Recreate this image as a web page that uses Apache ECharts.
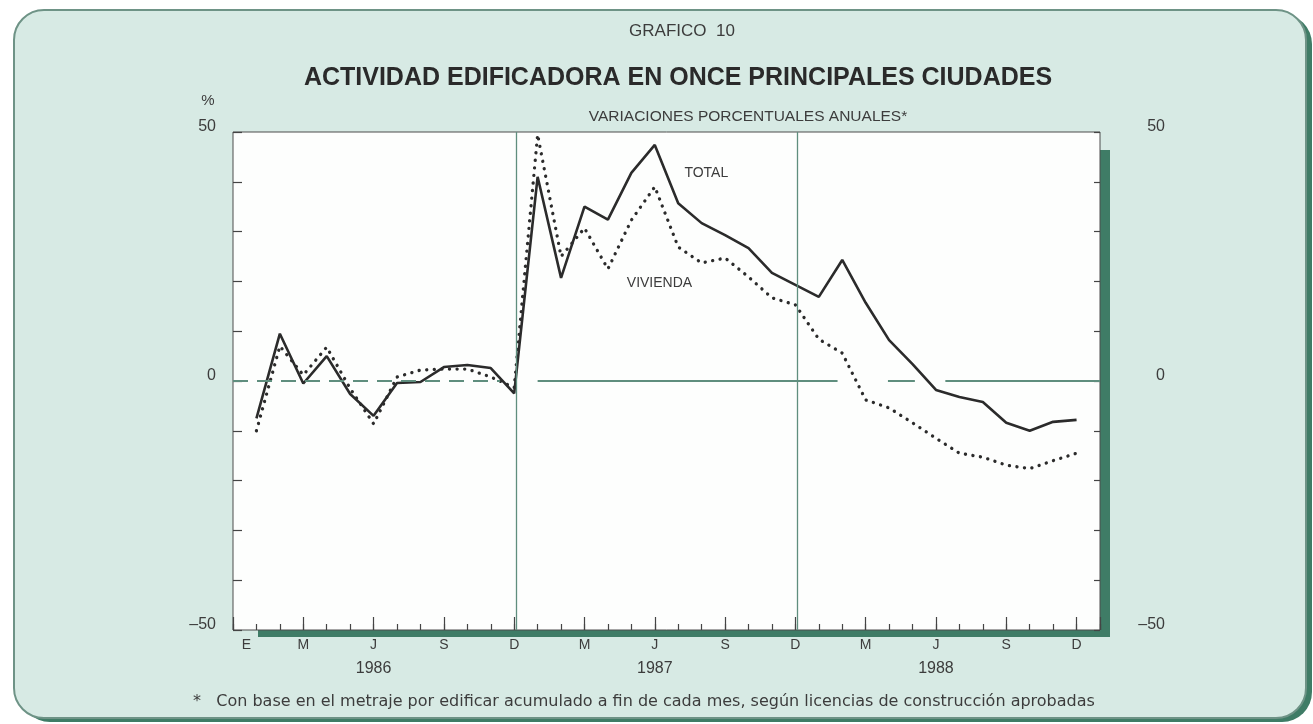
<!DOCTYPE html>
<html>
<head>
<meta charset="utf-8">
<script src="https://cdn.jsdelivr.net/npm/echarts@6/dist/echarts.min.js"></script>
<style>
  html, body { margin: 0; padding: 0; background: #fff; }
  #main { width: 1313px; height: 724px; }
</style>
</head>
<body>
<div id="main"></div>
<script>
// meses ene-1986 .. dic-1988 (indices 0..35)
const tickLabels = ['E', '', 'M', '', '', 'J', '', '', 'S', '', '', 'D',
                    '', '', 'M', '', '', 'J', '', '', 'S', '', '', 'D',
                    '', '', 'M', '', '', 'J', '', '', 'S', '', '', 'D']
const years = ['1986', '1987', '1988']
const yLabels = { '50': '50', '0': '0', '-50': '\u201350' }

const total = [-7.5, 9.5, -0.5, 5, -2.6, -7, -0.4, -0.2, 2.8, 3.2, 2.6, -2.5,
               41, 20.7, 35, 32.4, 41.8, 47.4, 35.7, 31.7, 29.3, 26.7, 21.7, 19.3,
               16.9, 24.3, 15.7, 8.2, 3.4, -1.8, -3.2, -4.2, -8.4, -10, -8.2, -7.8]
const vivienda = [-10, 7, 1.2, 6.8, -1.5, -8.6, 0.8, 2.2, 2.4, 2.4, 0.8, -1.3,
                  49.5, 25, 30.7, 22.5, 32.3, 39, 26.9, 23.7, 24.7, 20.9, 16.7, 15.3,
                  8.4, 5.6, -3.8, -5.4, -8.4, -11.5, -14.5, -15.3, -16.9, -17.6, -16, -14.5]

const txt = '#3c3c3c'
const ref = '#5f8e7e'
const green = '#3f7c66'

var chart = echarts.init(document.getElementById('main'))
chart.setOption({
  animation: false,
  textStyle: { fontFamily: 'Liberation Sans, Arial, sans-serif' },
  graphic: [
    // fondo del cuadro con borde oscuro abajo/derecha
    { type: 'rect', z: -10, shape: { x: 20, y: 14, width: 1292, height: 708, r: 30 },
      style: { fill: green } },
    { type: 'rect', z: -9, shape: { x: 14, y: 10, width: 1292, height: 708, r: 30 },
      style: { fill: '#d7eae4', stroke: '#6e9386', lineWidth: 2 } },
    // sombra verde del area del grafico
    { type: 'rect', z: -5, shape: { x: 258, y: 150, width: 852, height: 487 },
      style: { fill: green } }
  ],
  title: [
    { text: 'GRAFICO  10', left: 677, top: 18, textAlign: 'center',
      textStyle: { fontSize: 17, fontWeight: 'normal', color: txt } },
    { text: 'ACTIVIDAD EDIFICADORA EN ONCE PRINCIPALES CIUDADES', left: 673, top: 61, textAlign: 'center',
      textStyle: { fontSize: 25, fontWeight: 'bold', color: '#2a2a2a' } },
    { text: 'VARIACIONES PORCENTUALES ANUALES*', left: 743, top: 104, textAlign: 'center',
      textStyle: { fontSize: 15.5, fontWeight: 'normal', color: txt } },
    { text: '*   Con base en el metraje por edificar acumulado a fin de cada mes, según licencias de construcción aprobadas',
      left: 188, top: 689,
      textStyle: { fontSize: 16, fontWeight: 'normal', color: txt, fontFamily: 'DejaVu Sans' } }
  ],
  grid: {
    show: true, left: 233, top: 132, width: 867, height: 498,
    backgroundColor: '#fdfefd', borderColor: '#4d4d4d', borderWidth: 1
  },
  xAxis: [
    {
      type: 'value', min: -1, max: 36, interval: 1, position: 'bottom',
      axisLine: { show: false, onZero: false },
      splitLine: { show: false },
      axisTick: { inside: true, length: 6, lineStyle: { color: '#444', width: 1.2 } },
      axisLabel: {
        margin: 4, color: txt, fontSize: 14,
        formatter: function (v) {
          if (v < 0 || v > 35) return ''
          const t = tickLabels[v]
          if (!t) return ''
          if (v === 0) return '{e|E}'
          if (v % 12 === 5) return '{m|' + t + '}\n{y|' + years[(v - 5) / 12] + '}'
          return '{m|' + t + '}'
        },
        rich: {
          e: { fontSize: 14, color: txt, padding: [0, 20, 0, 0], lineHeight: 22 },
          m: { fontSize: 14, color: txt, lineHeight: 22 },
          y: { fontSize: 16, color: txt, lineHeight: 26 }
        }
      }
    },
    {
      // marcas largas trimestrales
      type: 'value', min: -1, max: 36, interval: 3, position: 'bottom',
      axisLine: { show: false, onZero: false },
      splitLine: { show: false },
      axisLabel: { show: false },
      axisTick: { inside: true, length: 13, lineStyle: { color: '#444', width: 1.2 } }
    }
  ],
  yAxis: [
    {
      type: 'value', min: -50, max: 50, interval: 10, position: 'left',
      name: '%', nameLocation: 'end', nameGap: 24,
      nameTextStyle: { color: txt, fontSize: 15, padding: [0, 50, 0, 0] },
      axisLine: { show: false, onZero: false },
      splitLine: { show: false },
      axisTick: { inside: true, length: 9, lineStyle: { color: '#444', width: 1.2 } },
      axisLabel: { margin: 17, color: txt, fontSize: 16, verticalAlign: 'bottom', lineHeight: 10,
        formatter: function (v) { return yLabels[v] || '' } }
    },
    {
      type: 'value', min: -50, max: 50, interval: 10, position: 'right',
      axisLine: { show: false, onZero: false },
      splitLine: { show: false },
      axisTick: { inside: true, length: 6, lineStyle: { color: '#444', width: 1.2 } },
      axisLabel: { margin: 65, align: 'right', color: txt, fontSize: 16, verticalAlign: 'bottom', lineHeight: 10,
        formatter: function (v) { return yLabels[v] || '' } }
    }
  ],
  series: [
    {
      name: 'TOTAL', type: 'line', symbol: 'none', z: 3,
      data: total.map((v, i) => [i, v]),
      lineStyle: { color: '#2b2b2b', width: 2.6 },
      markLine: {
        silent: true, symbol: 'none', label: { show: false },
        lineStyle: { color: ref, width: 1.3, type: 'solid' },
        data: [
          { xAxis: 11.1 },
          { xAxis: 23.1 },
          [{ coord: [-1, 0], lineStyle: { type: [15, 9], width: 2 } }, { coord: [10.4, 0] }],
          [{ coord: [12, 0], lineStyle: { width: 2 } }, { coord: [24.8, 0] }],
          [{ coord: [26.95, 0], lineStyle: { width: 2 } }, { coord: [28.1, 0] }],
          [{ coord: [29.4, 0], lineStyle: { width: 2 } }, { coord: [36, 0] }]
        ]
      },
      markPoint: {
        silent: true, symbol: 'circle', symbolSize: 1,
        itemStyle: { color: 'rgba(0,0,0,0)' },
        label: { show: true, position: 'inside', color: txt, fontSize: 14 },
        data: [{ coord: [19.2, 41.8], label: { formatter: 'TOTAL' } }]
      }
    },
    {
      name: 'VIVIENDA', type: 'line', symbol: 'none', z: 2,
      data: vivienda.map((v, i) => [i, v]),
      lineStyle: { color: '#2b2b2b', width: 3.3, type: [0.1, 7.5], cap: 'round' },
      markPoint: {
        silent: true, symbol: 'circle', symbolSize: 1,
        itemStyle: { color: 'rgba(0,0,0,0)' },
        label: { show: true, position: 'inside', color: txt, fontSize: 14 },
        data: [{ coord: [17.2, 19.7], label: { formatter: 'VIVIENDA' } }]
      }
    }
  ]
})
window.addEventListener('resize', () => {
  chart.resize()
})
</script>
</body>
</html>
